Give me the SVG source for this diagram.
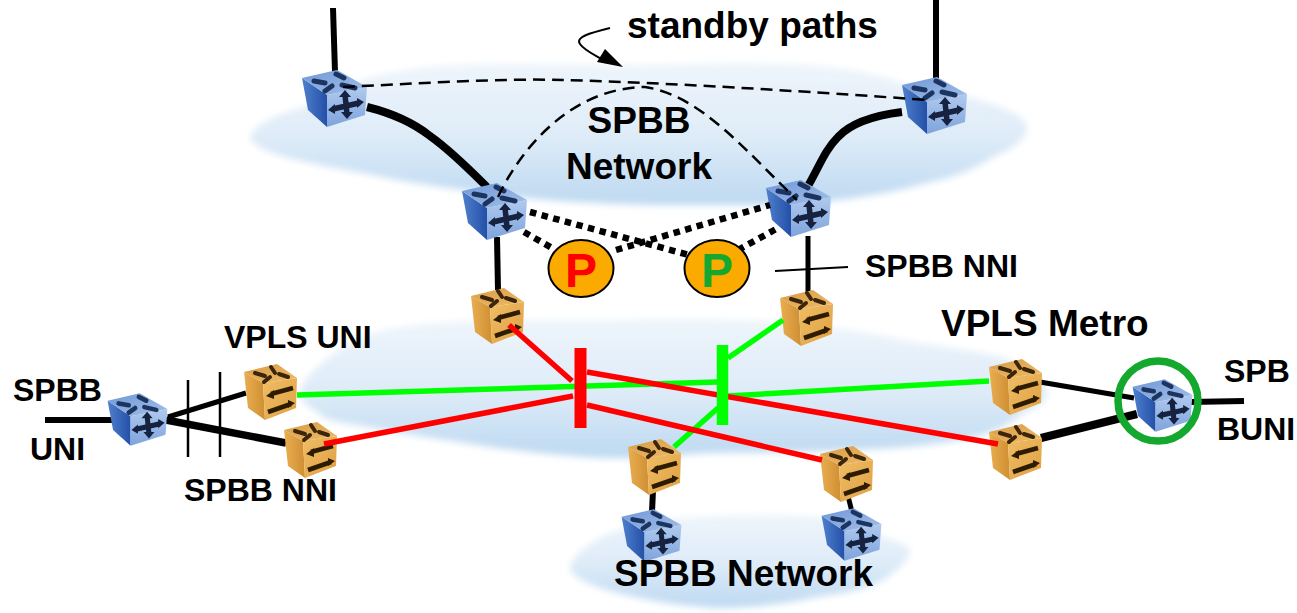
<svg xmlns="http://www.w3.org/2000/svg" width="1297" height="613" viewBox="0 0 1297 613">
<style>
text{font-family:"Liberation Sans",Arial,sans-serif;font-weight:700;fill:#000}
.t32{font-size:37px}.t28{font-size:32px}
.k{fill:none;stroke:#000}
.d{fill:none;stroke:#000;stroke-width:2.5;stroke-dasharray:12 7}
.dot{fill:none;stroke:#000;stroke-width:6.5;stroke-dasharray:6.5 5.5}
.r{stroke:#f00;stroke-width:5.5;fill:none}
.g{stroke:#0f0;stroke-width:5.5;fill:none}
.pill{fill:#fbab00;stroke:#000;stroke-width:2}
.cloud{fill:url(#cl);filter:url(#blur)}
</style>
<defs>
<linearGradient id="cl" x1="0" y1="0" x2="0" y2="1"><stop offset="0" stop-color="#eef5fb"/><stop offset=".5" stop-color="#dfecf8"/><stop offset="1" stop-color="#bdd9f1"/></linearGradient>
<linearGradient id="bt" x1="0" y1="0" x2="1" y2="1"><stop offset="0" stop-color="#6f97d8"/><stop offset="1" stop-color="#a5c0e8"/></linearGradient>
<linearGradient id="bf" x1="0" y1="0" x2="0" y2="1"><stop offset="0" stop-color="#b0caee"/><stop offset="1" stop-color="#7ea3dc"/></linearGradient>
<linearGradient id="bl" x1="0" y1="0" x2="1" y2="0"><stop offset="0" stop-color="#4f80cc"/><stop offset="1" stop-color="#2450a8"/></linearGradient>
<linearGradient id="ot" x1="0" y1="0" x2="1" y2="1"><stop offset="0" stop-color="#d89c44"/><stop offset="1" stop-color="#eebb68"/></linearGradient>
<linearGradient id="of" x1="0" y1="0" x2="1" y2="1"><stop offset="0" stop-color="#f0bd64"/><stop offset="1" stop-color="#dfa044"/></linearGradient>
<linearGradient id="ol" x1="0" y1="0" x2="1" y2="0"><stop offset="0" stop-color="#e9ae50"/><stop offset="1" stop-color="#cf8f33"/></linearGradient>
<filter id="blur" x="-5%" y="-10%" width="110%" height="120%"><feGaussianBlur stdDeviation="3.5"/></filter>
<filter id="soft" x="-10%" y="-10%" width="120%" height="120%"><feGaussianBlur stdDeviation=".7"/></filter>
<g id="blue" filter="url(#soft)">
<path d="M-32-21L-7-4L-7 28L-26 11Z" fill="url(#bl)"/>
<path d="M-7-4L33-12L31 16L-7 28Z" fill="url(#bf)"/>
<path d="M-32-21L3-29L33-12L-7-4Z" fill="url(#bt)"/>
<g stroke="#1f3560" stroke-width="5" fill="none" stroke-linecap="round">
<path d="M-20-18L-9-16M2-25L10-21M-9-8L-2-13M8-14L21-11"/>
</g>
<path d="M-1 10L25 4M11-4L13 15" stroke="#12233f" stroke-width="5.500" fill="none"/>
<path d="M-6 11L1 5V15ZM30 3L23-1V9ZM11-9L5-2H17ZM13 20L7 13H19Z" fill="#12233f"/>
</g>
<g id="orange" filter="url(#soft)">
<path d="M-27-18L-8-7L-6 30L-23 18Z" fill="url(#ol)"/>
<path d="M-8-7L26-12L25 18L-6 30Z" fill="url(#of)"/>
<path d="M-27-18L6-26L26-12L-8-7Z" fill="url(#ot)"/>
<g stroke="#3a2508" stroke-width="4" fill="none" stroke-linecap="round">
<path d="M-16-17L-6-14M0-23L4-17M-7-8L-1-13M8-16L17-13"/>
</g>
<path d="M0 4L22-2M-3 22L20 14" stroke="#2e1d05" stroke-width="4.500" fill="none"/>
<path d="M-5 6L3 0V9ZM24 13L17 10V18Z" fill="#2e1d05"/>
</g>
</defs>

<g id="clouds">
<path class="cloud" d="M250 137C256 122 285 112 304 107L367 78C400 70 430 66 463 65C520 62 600 66 660 65C720 62 780 62 827 67C860 70 885 76 900 83C930 90 950 93 967 97C1000 105 1025 115 1027 127C1028 140 1010 150 993 157C975 170 950 178 927 183C895 192 860 198 827 201C790 206 760 205 700 205C620 206 520 200 463 190C425 185 395 180 363 173C320 165 255 155 250 137Z"/>
<path class="cloud" d="M300 393C302 375 340 345 368 335C390 328 415 324 441 323C500 318 560 322 611 320C670 318 730 318 780 322C825 326 870 332 902 340C935 346 975 350 1000 357C1025 365 1047 380 1047 393C1047 402 1035 408 1023 413C1010 425 995 432 974 437C935 446 895 448 853 450C805 452 755 453 708 453C665 456 625 460 587 457C545 454 505 450 465 443C430 438 400 433 368 427C345 423 320 420 320 413C308 408 300 400 300 393Z"/>
<path class="cloud" d="M570 567C575 552 595 540 610 533C640 522 670 518 700 517C740 514 780 514 817 517C845 522 865 530 883 537C895 541 908 545 910 550C910 560 895 572 883 580C865 590 840 594 817 597C785 604 750 608 717 608C680 606 645 600 617 593C595 587 570 578 570 567Z"/>
</g>

<g id="connectors-back">
<path class="k" stroke-width="6" d="M333 8L335 72"/>
<path class="k" stroke-width="6" d="M936 0L936 80"/>
<path class="k" stroke-width="8" d="M367 107C395 114 415 124 430 136C450 150 470 170 487 187"/>
<path class="k" stroke-width="8" d="M902 112C870 116 850 124 838 137C825 150 820 165 808 186"/>
<path class="k" stroke-width="6" d="M497 237L498 290"/>
<path class="k" stroke-width="5" d="M808 236L808 292"/>
<path class="k" stroke-width="6" d="M653 490L652 512"/>
<path class="k" stroke-width="5" d="M848 496L852 512"/>
<path class="k" stroke-width="5" d="M168 417L246 393"/>
<path class="k" stroke-width="7.500" d="M166 420L286 443"/>
<path class="k" stroke-width="6" d="M45 420H112"/>
<path class="k" stroke-width="5" d="M1040 382L1134 398"/>
<path class="k" stroke-width="8" d="M1041 438L1137 414"/>
<path class="k" stroke-width="6" d="M1190 402L1244 401"/>
</g>

<g id="node-b1"><use href="#blue" x="334" y="99"/></g>
<g id="node-b2"><use href="#blue" x="934" y="106"/></g>
<g id="node-b3"><use href="#blue" x="494" y="212"/></g>
<g id="node-b4"><use href="#blue" x="798" y="209"/></g>
<g id="node-b5"><use href="#blue" transform="translate(137 420) scale(.92)"/></g>
<g id="node-b6"><use href="#blue" transform="translate(1162 406) scale(.92)"/></g>
<g id="node-b7"><use href="#blue" transform="translate(651 536) scale(.92)"/></g>
<g id="node-b8"><use href="#blue" transform="translate(851 535) scale(.92)"/></g>
<g id="node-o1"><use href="#orange" x="498" y="314"/></g>
<g id="node-o2"><use href="#orange" x="807" y="316"/></g>
<g id="node-o3"><use href="#orange" x="271" y="390"/></g>
<g id="node-o4"><use href="#orange" x="311" y="448"/></g>
<g id="node-o5"><use href="#orange" x="1016" y="385"/></g>
<g id="node-o6"><use href="#orange" x="1016" y="450"/></g>
<g id="node-o7"><use href="#orange" x="655" y="465"/></g>
<g id="node-o8"><use href="#orange" x="847" y="472"/></g>

<g id="connectors-front">
<path class="d" d="M343 87C410 84 500 78 563 80C640 82 760 88 927 100"/>
<path class="d" d="M498 197C520 150 570 88 645 87C700 95 745 150 797 200"/>
<path class="dot" d="M530 212L700 258"/>
<path class="dot" d="M616 250L770 205"/>
<path class="dot" d="M524 232L552 248"/>
<path class="dot" d="M738 250L778 228"/>
<path class="g" d="M297 395L717 382"/>
<path class="g" d="M728 396L989 381"/>
<path class="g" d="M728 358L783 320"/>
<path class="g" d="M718 408L674 447"/>
<path class="r" d="M509 325L572 381"/>
<path class="r" d="M587 372L998 444"/>
<path class="r" d="M324 444L573 396"/>
<path class="r" d="M587 405L822 460"/>
<path d="M580.500 348V428" stroke="#f00" stroke-width="12" fill="none"/>
<path d="M722.500 345V425" stroke="#0f0" stroke-width="11.500" fill="none"/>
<path d="M188 380V457M220 372V457" stroke="#000" stroke-width="2.500" fill="none"/>
<path d="M775 271L848 267" stroke="#000" stroke-width="2" fill="none"/>
<circle cx="1158" cy="401" r="40" fill="none" stroke="#14a82e" stroke-width="7.500"/>
<path d="M610 28C590 33 575 37 580 44C584 50 593 54 603 60" fill="none" stroke="#000" stroke-width="2"/>
<path d="M623 67L597 62L605 49Z" fill="#000"/>
</g>

<g id="node-p1"><ellipse class="pill" cx="581" cy="268.500" rx="32.500" ry="28.500"/><text x="581" y="287" text-anchor="middle" font-size="48" style="fill:#f00">P</text></g>
<g id="node-p2"><ellipse class="pill" cx="717" cy="268.500" rx="32.500" ry="28.500"/><text x="717" y="287" text-anchor="middle" font-size="48" style="fill:#14a82e">P</text></g>

<g id="labels">
<text class="t32" x="627" y="38">standby paths</text>
<text class="t32" x="639" y="133" text-anchor="middle">SPBB</text>
<text class="t32" x="639" y="179" text-anchor="middle">Network</text>
<text class="t28" x="865" y="277">SPBB NNI</text>
<text class="t32" x="941" y="336">VPLS Metro</text>
<text class="t28" x="224" y="348">VPLS UNI</text>
<text class="t28" x="13" y="401">SPBB</text>
<text class="t28" x="30" y="460">UNI</text>
<text class="t28" x="184" y="501">SPBB NNI</text>
<text class="t28" x="1224" y="382">SPB</text>
<text class="t28" x="1217" y="440">BUNI</text>
<text class="t32" x="614" y="586">SPBB Network</text>
</g>
</svg>
